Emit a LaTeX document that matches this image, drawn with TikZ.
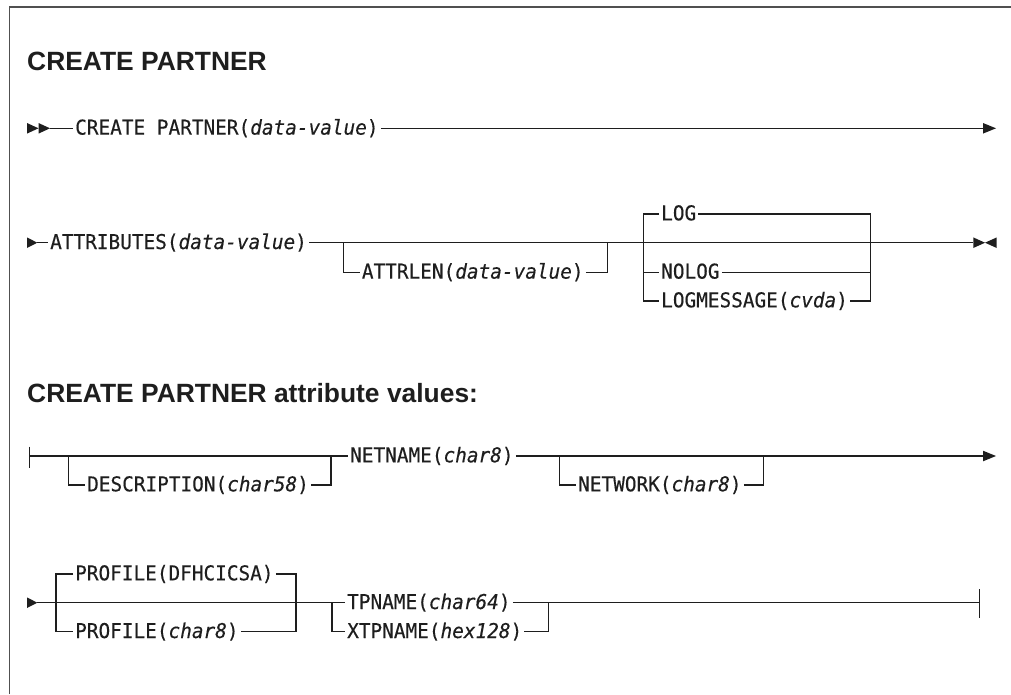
\documentclass[tikz,border=0pt]{standalone}
\usepackage{fontspec}
\setmainfont{Liberation Sans}
\setmonofont{DejaVu Sans Mono}[FakeBold=0.35,FakeStretch=0.95]
\definecolor{railc}{RGB}{30,30,30}
\definecolor{framec}{RGB}{80,80,80}
\begin{document}
\begin{tikzpicture}[x=1pt,y=-1pt,
  rail/.style={draw=railc,line width=1.4pt},
  kw/.style={anchor=base west,inner xsep=2pt,inner ysep=0pt,text=railc,
    font=\ttfamily\fontsize{20.4}{23}\selectfont},
  ttl/.style={anchor=base west,inner sep=0pt,text=railc,
    font=\bfseries\fontsize{26.4}{30}\selectfont},
  head/.style={fill=railc,draw=none}]
\useasboundingbox (0,0) rectangle (1011,694);
% frame
\draw[framec,line width=1.6pt] (9.5,694) -- (9.5,7) -- (1011,7);

% titles
\node[ttl] (t1) at (27,70.7) {CREATE PARTNER};
\node[ttl] (t2) at (27,402) {CREATE PARTNER attribute values:};

% ---------- row 1 ----------
\coordinate (r1s) at (50,128.3);
\coordinate (r1e) at (983,128.3);
\node[kw] (cp) at (73,134.6) {CREATE PARTNER(\textit{data-value})};
\fill[head] (27,123) -- (38.5,128.3) -- (27,133.6) -- cycle;
\fill[head] (38.5,123) -- (50,128.3) -- (38.5,133.6) -- cycle;
\draw[rail] (r1s) -- (r1s -| cp.west);
\draw[rail] (r1s -| cp.east) -- (r1e);
\fill[head] (983,123) -- (996,128.3) -- (983,133.6) -- cycle;

% ---------- row 2 ----------
\coordinate (r2s) at (37.3,242.7);
\coordinate (r2e) at (973.3,242.7);
\node[kw] (at) at (48,249) {ATTRIBUTES(\textit{data-value})};
\node[kw] (al) at (359.7,278.6) {ATTRLEN(\textit{data-value})};
\node[kw] (lg) at (659,220.3) {LOG};
\node[kw] (nl) at (659,278.6) {NOLOG};
\node[kw] (lm) at (659,307.3) {LOGMESSAGE(\textit{cvda})};
\coordinate (ja1) at (343.3,242.7);
\coordinate (ja2) at (343.3,272.3);
\coordinate (ja3) at (607.3,272.3);
\coordinate (ja4) at (607.3,242.7);
\coordinate (jlt) at (643.5,214);
\coordinate (jlm) at (643.5,272.3);
\coordinate (jlb) at (643.5,301);
\coordinate (jrt) at (870.7,214);
\coordinate (jrm) at (870.7,272.3);
\coordinate (jrb) at (870.7,301);
\fill[head] (27,237.4) -- (37.3,242.7) -- (27,248) -- cycle;
\draw[rail] (r2s) -- (r2s -| at.west);
\draw[rail] (r2s -| at.east) -- (r2e);
\draw[rail] (ja1) -- (ja2) -- (ja2 -| al.west);
\draw[rail] (al.east |- ja3) -- (ja3) -- (ja4);
\draw[rail] (jlt -| lg.west) -- (jlt) -- (jlb) -- (jlb -| lm.west);
\draw[rail] (jlm) -- (jlm -| nl.west);
\draw[rail] (lg.east |- jrt) -- (jrt) -- (jrb) -- (lm.east |- jrb);
\draw[rail] (nl.east |- jrm) -- (jrm);
\fill[head] (973.3,237.4) -- (985,242.7) -- (973.3,248) -- cycle;
\fill[head] (996.7,237.4) -- (985,242.7) -- (996.7,248) -- cycle;

% ---------- row 3 ----------
\coordinate (r3s) at (29.3,456);
\coordinate (r3e) at (983,456);
\node[kw] (ds) at (85,491.3) {DESCRIPTION(\textit{char58})};
\node[kw] (nn) at (348,462.3) {NETNAME(\textit{char8})};
\node[kw] (nw) at (576,491.3) {NETWORK(\textit{char8})};
\coordinate (jd1) at (68.3,456);
\coordinate (jd2) at (68.3,485);
\coordinate (jd3) at (331,485);
\coordinate (jd4) at (331,456);
\coordinate (jn1) at (559.3,456);
\coordinate (jn2) at (559.3,485);
\coordinate (jn3) at (763.3,485);
\coordinate (jn4) at (763.3,456);
\draw[rail] (29.3,446.7) -- (29.3,468.3);
\draw[rail] (r3s) -- (r3s -| nn.west);
\draw[rail] (jd1) -- (jd2) -- (jd2 -| ds.west);
\draw[rail] (ds.east |- jd3) -- (jd3) -- (jd4);
\draw[rail] (r3s -| nn.east) -- (r3e);
\draw[rail] (jn1) -- (jn2) -- (jn2 -| nw.west);
\draw[rail] (nw.east |- jn3) -- (jn3) -- (jn4);
\fill[head] (983,450.7) -- (996,456) -- (983,461.3) -- cycle;

% ---------- row 4 ----------
\coordinate (r4s) at (37.3,602.7);
\coordinate (r4e) at (979.3,602.7);
\node[kw] (pd) at (73,580.3) {PROFILE(DFHCICSA)};
\node[kw] (pc) at (73,638) {PROFILE(\textit{char8})};
\node[kw] (tp) at (345,609) {TPNAME(\textit{char64})};
\node[kw] (xt) at (345,638) {XTPNAME(\textit{hex128})};
\coordinate (jp1) at (56,574);
\coordinate (jp2) at (56,631.7);
\coordinate (jp3) at (296,574);
\coordinate (jp4) at (296,631.7);
\coordinate (jt1) at (332,602.7);
\coordinate (jt2) at (332,631.7);
\coordinate (jt3) at (548.3,602.7);
\coordinate (jt4) at (548.3,631.7);
\fill[head] (27,597.4) -- (37.3,602.7) -- (27,608) -- cycle;
\draw[rail] (r4s) -- (r4s -| tp.west);
\draw[rail] (jp1 -| pd.west) -- (jp1) -- (jp2) -- (jp2 -| pc.west);
\draw[rail] (pd.east |- jp3) -- (jp3) -- (jp4) -- (pc.east |- jp4);
\draw[rail] (jt1) -- (jt2) -- (jt2 -| xt.west);
\draw[rail] (xt.east |- jt4) -- (jt4) -- (jt3);
\draw[rail] (r4s -| tp.east) -- (r4e);
\draw[rail] (979.3,589.3) -- (979.3,618.3);
\end{tikzpicture}
\end{document}
